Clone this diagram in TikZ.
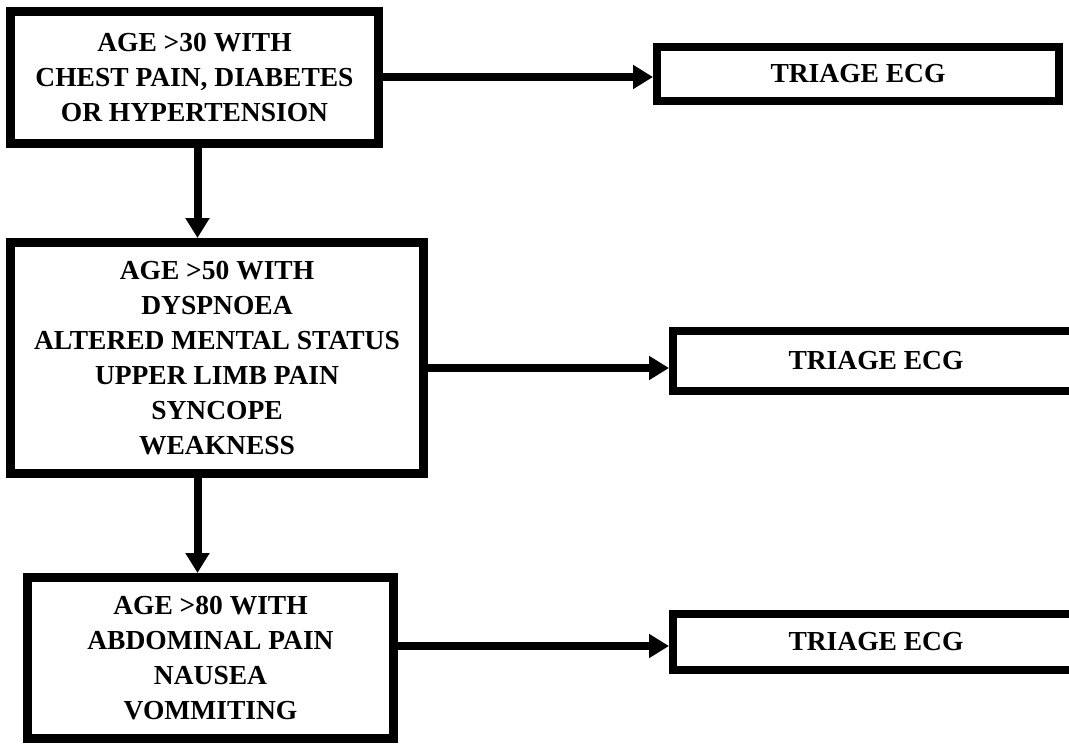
\documentclass[tikz,border=0pt]{standalone}
\usepackage{fontspec}
\setmainfont{Liberation Serif}
\usetikzlibrary{arrows.meta}

\begin{document}
\begin{tikzpicture}[
  x=1pt, y=-1pt,
  font=\bfseries\fontsize{27.5}{35}\selectfont,
  box/.style={draw, line width=9pt, align=center, inner sep=0pt},
  ecg/.style={draw, line width=8pt, inner sep=0pt},
  arr/.style={line width=8pt, -{Triangle[length=20pt, width=23pt]}}
]
\useasboundingbox (0,0) rectangle (1069,744);
\clip (0,0) rectangle (1069,744);
\node[box, minimum width=368pt, minimum height=132pt] (age30) at (194.5,77.5)
  {AGE >30 WITH\\CHEST PAIN, DIABETES\\OR HYPERTENSION};
\node[box, minimum width=413pt, minimum height=231pt] (age50) at (217,358)
  {AGE >50 WITH\\DYSPNOEA\\ALTERED MENTAL STATUS\\UPPER LIMB PAIN\\SYNCOPE\\WEAKNESS};
\node[box, minimum width=366pt, minimum height=161pt] (age80) at (210.5,658)
  {AGE >80 WITH\\ABDOMINAL PAIN\\NAUSEA\\VOMMITING};
\node[ecg, minimum width=402pt, minimum height=54pt] (ecg1) at (858,74) {TRIAGE ECG};
\node[ecg, minimum width=406pt, minimum height=60pt] (ecg2) at (876,361) {TRIAGE ECG};
\node[ecg, minimum width=406pt, minimum height=56pt] (ecg3) at (876,642) {TRIAGE ECG};
\coordinate (down) at (197.5,0);
\coordinate (lvl1) at (0,77);
\coordinate (lvl2) at (0,368);
\coordinate (lvl3) at (0,646);
\draw[arr] (age30.south -| down) -- (age50.north -| down);
\draw[arr] (age50.south -| down) -- (age80.north -| down);
\draw[arr] (age30.east |- lvl1) -- (ecg1.west |- lvl1);
\draw[arr] (age50.east |- lvl2) -- (ecg2.west |- lvl2);
\draw[arr] (age80.east |- lvl3) -- (ecg3.west |- lvl3);
\end{tikzpicture}
\end{document}
